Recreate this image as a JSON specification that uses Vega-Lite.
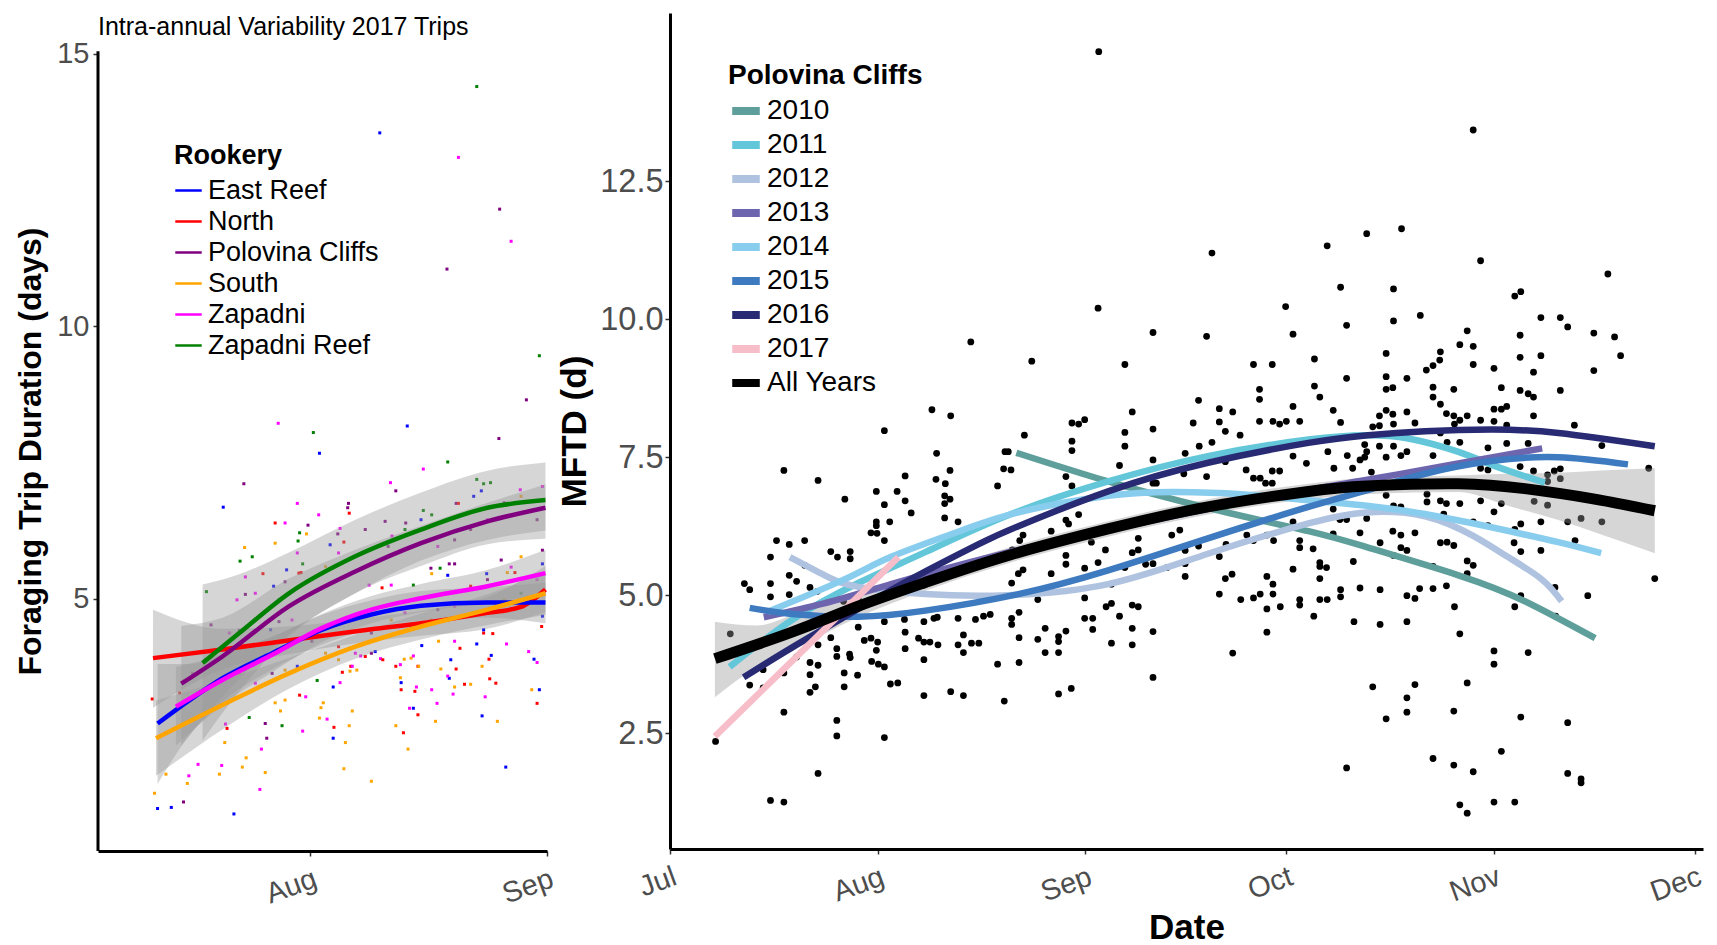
{
"$schema": "https://vega.github.io/schema/vega-lite/v6.json",
"padding": {"left": 14, "top": 13, "right": 0, "bottom": 0},
"background": "white",
"config": {"font": "Liberation Sans", "view": {"stroke": null}, "axis": {"grid": false, "domainColor": "black", "domainWidth": 3, "tickColor": "#333333", "tickSize": 5, "tickWidth": 1.5, "labelColor": "#4d4d4d", "titleColor": "black", "titleFontWeight": "bold"}, "legend": {"titleColor": "black", "labelColor": "black", "titleFontWeight": "bold", "padding": 0, "labelLimit": 0, "titleLimit": 0}},
"datasets": {
"lp": [
{"d":234.8,"v":14.4,"r":"Zapadni Reef"},{"d":222.1,"v":13.55,"r":"East Reef"},{"d":232.4,"v":13.1,"r":"Zapadni"},{"d":237.8,"v":12.15,"r":"Polovina Cliffs"},{"d":239.3,"v":11.56,"r":"Zapadni"},{"d":230.9,"v":11.05,"r":"Polovina Cliffs"},{"d":243.0,"v":9.46,"r":"Zapadni Reef"},
{"d":241.3,"v":8.65,"r":"Polovina Cliffs"},{"d":208.8,"v":8.22,"r":"Zapadni"},{"d":213.4,"v":8.05,"r":"Zapadni Reef"},{"d":225.7,"v":8.17,"r":"East Reef"},{"d":237.7,"v":7.94,"r":"Polovina Cliffs"},{"d":214.2,"v":7.67,"r":"East Reef"},{"d":231.0,"v":7.51,"r":"Zapadni Reef"},{"d":227.8,"v":7.38,"r":"Zapadni"},{"d":204.3,"v":7.11,"r":"Polovina Cliffs"},{"d":223.5,"v":7.13,"r":"Zapadni"},{"d":224.2,"v":6.98,"r":"Polovina Cliffs"},{"d":201.6,"v":6.68,"r":"East Reef"},{"d":211.3,"v":6.75,"r":"Zapadni"},{"d":218.0,"v":6.75,"r":"Polovina Cliffs"},{"d":214.1,"v":6.54,"r":"Zapadni"},{"d":217.9,"v":6.67,"r":"Polovina Cliffs"},{"d":218.1,"v":6.57,"r":"North"},{"d":208.4,"v":6.39,"r":"North"},{"d":209.7,"v":6.39,"r":"Zapadni"},{"d":212.7,"v":6.35,"r":"Polovina Cliffs"},{"d":216.9,"v":6.29,"r":"Zapadni"},{"d":216.6,"v":6.19,"r":"Polovina Cliffs"},{"d":211.6,"v":6.21,"r":"Zapadni Reef"},{"d":212.5,"v":6.19,"r":"South"},{"d":211.4,"v":6.06,"r":"Zapadni Reef"},{"d":215.6,"v":5.99,"r":"East Reef"},{"d":217.4,"v":6.04,"r":"North"},{"d":208.4,"v":6.02,"r":"South"},{"d":204.4,"v":5.94,"r":"South"},{"d":203.8,"v":5.69,"r":"Zapadni Reef"},{"d":205.4,"v":5.77,"r":"Zapadni Reef"},{"d":211.3,"v":5.84,"r":"Zapadni"},{"d":212.0,"v":5.64,"r":"Zapadni Reef"},{"d":209.9,"v":5.53,"r":"East Reef"},{"d":206.8,"v":5.46,"r":"North"},{"d":204.5,"v":5.40,"r":"Zapadni"},{"d":211.8,"v":5.48,"r":"North"},{"d":208.2,"v":5.23,"r":"East Reef"},{"d":209.7,"v":5.31,"r":"Polovina Cliffs"},{"d":199.4,"v":5.13,"r":"Zapadni Reef"},{"d":203.4,"v":4.98,"r":"Zapadni"},{"d":204.5,"v":5.08,"r":"Polovina Cliffs"},{"d":220.7,"v":5.25,"r":"Zapadni"},{"d":222.8,"v":6.42,"r":"Polovina Cliffs"},{"d":223.7,"v":6.15,"r":"Zapadni"},{"d":225.5,"v":6.39,"r":"Polovina Cliffs"},{"d":227.8,"v":6.62,"r":"Zapadni Reef"},{"d":228.9,"v":6.54,"r":"Zapadni Reef"},{"d":232.1,"v":6.75,"r":"Polovina Cliffs"},{"d":232.4,"v":6.75,"r":"North"},{"d":234.8,"v":7.19,"r":"Zapadni Reef"},{"d":235.7,"v":7.11,"r":"Zapadni Reef"},{"d":236.6,"v":7.13,"r":"Zapadni Reef"},{"d":235.4,"v":6.98,"r":"East Reef"},{"d":234.4,"v":6.88,"r":"East Reef"},{"d":240.5,"v":7.0,"r":"Zapadni"},{"d":243.4,"v":7.06,"r":"Zapadni"},{"d":243.4,"v":5.89,"r":"Polovina Cliffs"},{"d":238.0,"v":5.71,"r":"Polovina Cliffs"},{"d":231.2,"v":5.64,"r":"Polovina Cliffs"},{"d":231.9,"v":5.64,"r":"Polovina Cliffs"},{"d":228.8,"v":5.56,"r":"Polovina Cliffs"},{"d":230.0,"v":5.56,"r":"Zapadni Reef"},{"d":240.6,"v":5.77,"r":"South"},{"d":239.3,"v":5.58,"r":"Zapadni"},{"d":239.8,"v":5.48,"r":"North"},{"d":238.8,"v":5.48,"r":"South"},{"d":243.4,"v":5.64,"r":"East Reef"},{"d":236.1,"v":5.46,"r":"East Reef"},{"d":228.9,"v":5.46,"r":"South"},{"d":231.0,"v":5.43,"r":"East Reef"},{"d":223.6,"v":5.25,"r":"Zapadni"},{"d":222.4,"v":5.20,"r":"North"},{"d":226.5,"v":5.25,"r":"Zapadni Reef"},{"d":243.4,"v":4.68,"r":"East Reef"},{"d":243.3,"v":4.49,"r":"North"},{"d":235.7,"v":4.37,"r":"North"},{"d":236.9,"v":4.36,"r":"North"},{"d":235.7,"v":4.43,"r":"East Reef"},{"d":227.6,"v":4.14,"r":"East Reef"},{"d":229.8,"v":4.22,"r":"South"},{"d":231.9,"v":4.22,"r":"Zapadni"},{"d":232.6,"v":4.09,"r":"North"},{"d":234.8,"v":4.17,"r":"East Reef"},{"d":238.7,"v":4.17,"r":"Zapadni"},{"d":231.4,"v":3.88,"r":"East Reef"},{"d":241.6,"v":4.03,"r":"Zapadni"},{"d":242.3,"v":3.89,"r":"East Reef"},{"d":242.7,"v":3.83,"r":"Zapadni"},{"d":236.4,"v":3.89,"r":"North"},{"d":236.7,"v":3.96,"r":"East Reef"},{"d":235.5,"v":3.76,"r":"South"},{"d":232.1,"v":3.71,"r":"North"},{"d":230.1,"v":3.71,"r":"South"},{"d":231.2,"v":3.54,"r":"East Reef"},{"d":231.0,"v":3.58,"r":"Zapadni"},{"d":233.2,"v":3.43,"r":"North"},{"d":234.0,"v":3.43,"r":"South"},{"d":236.5,"v":3.53,"r":"North"},{"d":237.3,"v":3.45,"r":"North"},{"d":231.9,"v":3.38,"r":"South"},{"d":231.7,"v":3.25,"r":"Zapadni"},{"d":235.9,"v":3.20,"r":"Zapadni"},{"d":228.9,"v":3.33,"r":"Zapadni"},{"d":242.0,"v":3.33,"r":"South"},{"d":243.0,"v":3.33,"r":"East Reef"},{"d":242.7,"v":3.08,"r":"North"},{"d":235.5,"v":2.85,"r":"East Reef"},{"d":237.5,"v":2.75,"r":"South"},{"d":238.6,"v":1.91,"r":"East Reef"},{"d":229.4,"v":2.75,"r":"South"},{"d":229.6,"v":3.08,"r":"Zapadni"},{"d":227.1,"v":2.87,"r":"North"},{"d":226.5,"v":2.99,"r":"East Reef"},{"d":226.0,"v":2.99,"r":"Zapadni"},{"d":226.7,"v":3.30,"r":"North"},{"d":226.9,"v":3.38,"r":"Zapadni"},{"d":224.9,"v":3.33,"r":"North"},{"d":224.9,"v":3.46,"r":"East Reef"},{"d":224.8,"v":3.55,"r":"South"},{"d":224.2,"v":3.76,"r":"North"},{"d":224.8,"v":3.79,"r":"Zapadni"},{"d":225.3,"v":3.89,"r":"South"},{"d":226.2,"v":3.91,"r":"South"},{"d":226.5,"v":3.95,"r":"Zapadni"},{"d":227.1,"v":3.76,"r":"North"},{"d":227.2,"v":3.76,"r":"South"},{"d":225.2,"v":2.54,"r":"North"},{"d":224.2,"v":2.67,"r":"South"},{"d":225.8,"v":2.24,"r":"South"},{"d":221.0,"v":1.65,"r":"South"},{"d":217.4,"v":1.88,"r":"South"},{"d":217.6,"v":2.36,"r":"South"},{"d":218.1,"v":2.67,"r":"South"},{"d":218.5,"v":2.94,"r":"South"},{"d":216.1,"v":2.64,"r":"North"},{"d":215.2,"v":2.79,"r":"Zapadni"},{"d":214.2,"v":2.81,"r":"South"},{"d":214.4,"v":3.00,"r":"South"},{"d":214.7,"v":3.09,"r":"South"},{"d":212.0,"v":2.57,"r":"Zapadni"},{"d":216.0,"v":2.44,"r":"East Reef"},{"d":212.4,"v":3.20,"r":"Zapadni"},{"d":211.6,"v":3.23,"r":"North"},{"d":209.7,"v":3.14,"r":"South"},{"d":208.4,"v":3.09,"r":"South"},{"d":209.1,"v":2.94,"r":"South"},{"d":209.3,"v":2.67,"r":"Zapadni Reef"},{"d":207.1,"v":2.71,"r":"Polovina Cliffs"},{"d":207.3,"v":2.44,"r":"Polovina Cliffs"},{"d":206.6,"v":2.24,"r":"Zapadni"},{"d":207.1,"v":1.81,"r":"South"},{"d":206.4,"v":1.50,"r":"Zapadni"},{"d":204.6,"v":2.08,"r":"South"},{"d":204.1,"v":1.91,"r":"South"},{"d":203.0,"v":1.05,"r":"East Reef"},{"d":201.4,"v":1.94,"r":"Zapadni"},{"d":201.1,"v":1.78,"r":"South"},{"d":201.8,"v":2.36,"r":"South"},{"d":202.1,"v":2.62,"r":"North"},{"d":201.9,"v":2.70,"r":"Zapadni"},{"d":205.0,"v":2.82,"r":"Zapadni Reef"},{"d":198.3,"v":1.96,"r":"Zapadni"},{"d":197.1,"v":1.75,"r":"Zapadni"},{"d":196.9,"v":1.61,"r":"South"},{"d":196.4,"v":1.27,"r":"Polovina Cliffs"},{"d":194.8,"v":1.17,"r":"East Reef"},{"d":193.0,"v":1.15,"r":"East Reef"},{"d":192.6,"v":1.43,"r":"South"},{"d":194.1,"v":1.78,"r":"South"},{"d":192.3,"v":3.16,"r":"North"},{"d":213.9,"v":3.50,"r":"Zapadni Reef"},{"d":216.0,"v":3.38,"r":"East Reef"},{"d":216.9,"v":3.46,"r":"Zapadni"},{"d":217.2,"v":3.65,"r":"North"},{"d":218.3,"v":3.76,"r":"North"},{"d":218.5,"v":3.76,"r":"Zapadni"},{"d":219.6,"v":3.95,"r":"Zapadni"},{"d":220.2,"v":3.94,"r":"North"},{"d":221.5,"v":4.03,"r":"East Reef"},{"d":222.2,"v":3.90,"r":"Zapadni"},{"d":222.5,"v":3.88,"r":"North"},{"d":219.1,"v":3.69,"r":"South"},{"d":218.2,"v":3.67,"r":"South"},
{"d":200.0,"v":4.52,"r":"Polovina Cliffs"},{"d":202.4,"v":4.37,"r":"Zapadni"},{"d":203.7,"v":4.42,"r":"Polovina Cliffs"},{"d":207.8,"v":4.43,"r":"East Reef"},{"d":208.9,"v":4.58,"r":"Polovina Cliffs"},{"d":210.6,"v":4.61,"r":"Zapadni"},{"d":213.2,"v":4.22,"r":"Polovina Cliffs"},{"d":215.0,"v":4.0,"r":"South"},{"d":216.7,"v":4.12,"r":"North"},{"d":218.9,"v":4.0,"r":"Zapadni"},{"d":221.0,"v":4.37,"r":"Polovina Cliffs"},{"d":223.6,"v":4.61,"r":"South"},{"d":225.4,"v":4.74,"r":"Zapadni"},{"d":228.8,"v":4.61,"r":"South"},{"d":229.7,"v":4.80,"r":"Polovina Cliffs"},{"d":231.9,"v":4.86,"r":"Zapadni"},{"d":234.0,"v":5.23,"r":"North"},{"d":236.2,"v":5.35,"r":"Polovina Cliffs"},{"d":238.4,"v":4.98,"r":"South"},{"d":240.6,"v":5.10,"r":"Zapadni Reef"},{"d":242.7,"v":5.35,"r":"Zapadni"},{"d":223.2,"v":5.96,"r":"Polovina Cliffs"},{"d":225.4,"v":6.27,"r":"Zapadni Reef"},{"d":227.5,"v":6.45,"r":"East Reef"},{"d":229.7,"v":5.96,"r":"Zapadni"},{"d":231.9,"v":6.08,"r":"Polovina Cliffs"},{"d":234.0,"v":6.27,"r":"Polovina Cliffs"},{"d":236.2,"v":6.45,"r":"Zapadni"},{"d":238.4,"v":6.76,"r":"Polovina Cliffs"},{"d":240.6,"v":6.88,"r":"South"},{"d":242.7,"v":6.45,"r":"Polovina Cliffs"},{"d":220.2,"v":6.27,"r":"Polovina Cliffs"},{"d":216.7,"v":5.84,"r":"Zapadni"},{"d":215.0,"v":5.59,"r":"South"},{"d":211.5,"v":5.47,"r":"North"},{"d":208.9,"v":4.98,"r":"Polovina Cliffs"},{"d":205.8,"v":5.10,"r":"Zapadni"},{"d":203.7,"v":3.63,"r":"South"},{"d":205.8,"v":3.45,"r":"Zapadni"},{"d":208.0,"v":3.63,"r":"Polovina Cliffs"},{"d":209.7,"v":3.69,"r":"South"},{"d":211.3,"v":3.76,"r":"East Reef"},{"d":216.7,"v":3.88,"r":"South"},{"d":221.0,"v":4.0,"r":"Polovina Cliffs"},{"d":197.6,"v":3.63,"r":"Polovina Cliffs"},{"d":199.3,"v":3.88,"r":"Zapadni"},{"d":195.9,"v":3.27,"r":"North"}
],
"ll": [
{"d":192.4,"v":3.91,"r":"North"},{"d":201.5,"v":4.07,"r":"North"},{"d":211,"v":4.25,"r":"North"},{"d":221,"v":4.44,"r":"North"},{"d":227.5,"v":4.55,"r":"North"},{"d":236.2,"v":4.74,"r":"North"},{"d":240.6,"v":4.85,"r":"North"},{"d":243.8,"v":5.17,"r":"North"},
{"d":193,"v":2.71,"r":"East Reef"},{"d":197.2,"v":3.14,"r":"East Reef"},{"d":201.5,"v":3.54,"r":"East Reef"},{"d":208,"v":4.0,"r":"East Reef"},{"d":214.5,"v":4.43,"r":"East Reef"},{"d":221,"v":4.71,"r":"East Reef"},{"d":227.5,"v":4.87,"r":"East Reef"},{"d":236.2,"v":4.93,"r":"East Reef"},{"d":243.8,"v":4.93,"r":"East Reef"},
{"d":195.4,"v":3.02,"r":"Zapadni"},{"d":201.5,"v":3.51,"r":"Zapadni"},{"d":208,"v":3.97,"r":"Zapadni"},{"d":214.5,"v":4.46,"r":"Zapadni"},{"d":221,"v":4.80,"r":"Zapadni"},{"d":227.5,"v":5.01,"r":"Zapadni"},{"d":236.2,"v":5.23,"r":"Zapadni"},{"d":243.8,"v":5.47,"r":"Zapadni"},
{"d":192.8,"v":2.44,"r":"South"},{"d":201.5,"v":3.05,"r":"South"},{"d":210.2,"v":3.63,"r":"South"},{"d":218.9,"v":4.12,"r":"South"},{"d":227.5,"v":4.49,"r":"South"},{"d":236.2,"v":4.80,"r":"South"},{"d":243.8,"v":5.10,"r":"South"},
{"d":196.1,"v":3.44,"r":"Polovina Cliffs"},{"d":201.5,"v":3.94,"r":"Polovina Cliffs"},{"d":210.2,"v":4.86,"r":"Polovina Cliffs"},{"d":218.9,"v":5.50,"r":"Polovina Cliffs"},{"d":227.5,"v":6.02,"r":"Polovina Cliffs"},{"d":236.2,"v":6.42,"r":"Polovina Cliffs"},{"d":243.8,"v":6.67,"r":"Polovina Cliffs"},
{"d":198.9,"v":3.82,"r":"Zapadni Reef"},{"d":203.7,"v":4.37,"r":"Zapadni Reef"},{"d":210.2,"v":5.10,"r":"Zapadni Reef"},{"d":218.9,"v":5.78,"r":"Zapadni Reef"},{"d":227.5,"v":6.27,"r":"Zapadni Reef"},{"d":236.2,"v":6.67,"r":"Zapadni Reef"},{"d":243.8,"v":6.81,"r":"Zapadni Reef"}
],
"lb": [
{"d":192.4,"lo":3.0,"hi":4.8,"r":"North"},{"d":201.5,"lo":3.7,"hi":4.45,"r":"North"},{"d":211,"lo":4.0,"hi":4.5,"r":"North"},{"d":221,"lo":4.22,"hi":4.66,"r":"North"},{"d":227.5,"lo":4.32,"hi":4.78,"r":"North"},{"d":236.2,"lo":4.45,"hi":5.03,"r":"North"},{"d":243.8,"lo":4.75,"hi":5.6,"r":"North"},
{"d":193,"lo":1.6,"hi":3.8,"r":"East Reef"},{"d":197.2,"lo":2.5,"hi":3.8,"r":"East Reef"},{"d":201.5,"lo":3.1,"hi":4.0,"r":"East Reef"},{"d":208,"lo":3.7,"hi":4.3,"r":"East Reef"},{"d":214.5,"lo":4.15,"hi":4.7,"r":"East Reef"},{"d":221,"lo":4.45,"hi":4.97,"r":"East Reef"},{"d":227.5,"lo":4.6,"hi":5.14,"r":"East Reef"},{"d":236.2,"lo":4.65,"hi":5.21,"r":"East Reef"},{"d":243.8,"lo":4.55,"hi":5.3,"r":"East Reef"},
{"d":195.4,"lo":2.3,"hi":3.75,"r":"Zapadni"},{"d":201.5,"lo":3.05,"hi":3.97,"r":"Zapadni"},{"d":208,"lo":3.65,"hi":4.3,"r":"Zapadni"},{"d":214.5,"lo":4.2,"hi":4.72,"r":"Zapadni"},{"d":221,"lo":4.55,"hi":5.05,"r":"Zapadni"},{"d":227.5,"lo":4.75,"hi":5.27,"r":"Zapadni"},{"d":236.2,"lo":4.93,"hi":5.53,"r":"Zapadni"},{"d":243.8,"lo":5.05,"hi":5.9,"r":"Zapadni"},
{"d":192.8,"lo":1.75,"hi":3.13,"r":"South"},{"d":201.5,"lo":2.6,"hi":3.5,"r":"South"},{"d":210.2,"lo":3.35,"hi":3.91,"r":"South"},{"d":218.9,"lo":3.9,"hi":4.34,"r":"South"},{"d":227.5,"lo":4.25,"hi":4.73,"r":"South"},{"d":236.2,"lo":4.52,"hi":5.08,"r":"South"},{"d":243.8,"lo":4.7,"hi":5.5,"r":"South"},
{"d":196.1,"lo":2.3,"hi":4.5,"r":"Polovina Cliffs"},{"d":201.5,"lo":3.2,"hi":4.65,"r":"Polovina Cliffs"},{"d":210.2,"lo":4.35,"hi":5.37,"r":"Polovina Cliffs"},{"d":218.9,"lo":5.1,"hi":5.9,"r":"Polovina Cliffs"},{"d":227.5,"lo":5.7,"hi":6.34,"r":"Polovina Cliffs"},{"d":236.2,"lo":6.08,"hi":6.76,"r":"Polovina Cliffs"},{"d":243.8,"lo":6.25,"hi":7.1,"r":"Polovina Cliffs"},
{"d":198.9,"lo":2.4,"hi":5.26,"r":"Zapadni Reef"},{"d":203.7,"lo":3.3,"hi":5.45,"r":"Zapadni Reef"},{"d":210.2,"lo":4.3,"hi":5.85,"r":"Zapadni Reef"},{"d":218.9,"lo":5.1,"hi":6.45,"r":"Zapadni Reef"},{"d":227.5,"lo":5.6,"hi":6.95,"r":"Zapadni Reef"},{"d":236.2,"lo":6.0,"hi":7.35,"r":"Zapadni Reef"},{"d":243.8,"lo":6.1,"hi":7.5,"r":"Zapadni Reef"}
],
"rp": [
{"d":246.0,"v":14.85},{"d":301.9,"v":13.43},{"d":291.2,"v":11.64},{"d":286.0,"v":11.55},{"d":280.1,"v":11.33},{"d":262.9,"v":11.20},{"d":303.0,"v":11.06},{"d":322.0,"v":10.82},
{"d":226.9,"v":9.59},{"d":221.1,"v":8.36},{"d":223.9,"v":8.25},{"d":214.0,"v":7.98},{"d":232.0,"v":7.60},{"d":221.8,"v":7.57},{"d":199.0,"v":7.26},{"d":204.1,"v":7.08},{"d":223.8,"v":7.26},{"d":217.1,"v":7.16},{"d":230.9,"v":6.98},{"d":231.8,"v":7.29},{"d":221.7,"v":7.10},{"d":223.1,"v":7.02},{"d":223.0,"v":6.80},{"d":223.8,"v":6.74},{"d":223.0,"v":6.66},{"d":212.8,"v":6.88},{"d":215.9,"v":6.88},{"d":208.1,"v":6.74},{"d":214.0,"v":6.64},{"d":217.1,"v":6.71},{"d":218.0,"v":6.49},{"d":212.8,"v":6.33},{"d":212.8,"v":6.26},{"d":212.0,"v":6.13},{"d":212.9,"v":6.12},{"d":214.8,"v":6.33},{"d":223.0,"v":6.40},{"d":225.0,"v":6.33},{"d":214.0,"v":5.99},{"d":197.9,"v":5.99},{"d":199.8,"v":5.92},{"d":202.1,"v":5.99},{"d":197.0,"v":5.69},{"d":206.0,"v":5.79},{"d":207.0,"v":5.69},{"d":208.9,"v":5.79},{"d":208.9,"v":5.66},{"d":202.1,"v":5.54},{"d":199.8,"v":5.36},{"d":200.9,"v":5.25},{"d":193.1,"v":5.21},{"d":193.9,"v":5.10},{"d":197.0,"v":5.21},{"d":197.0,"v":4.97},{"d":199.8,"v":5.01},{"d":202.9,"v":5.14},{"d":204.0,"v":5.07},{"d":191.0,"v":4.30},{"d":207.9,"v":4.89},{"d":210.1,"v":4.95},{"d":214.0,"v":4.52},{"d":217.0,"v":4.56},{"d":219.9,"v":4.52},{"d":221.4,"v":4.58},{"d":221.9,"v":4.60},{"d":225.0,"v":4.58},{"d":227.6,"v":4.56},{"d":228.8,"v":4.62},{"d":229.8,"v":4.65},{"d":230.9,"v":3.75},{"d":231.9,"v":3.08},{"d":225.8,"v":3.96},{"d":225.8,"v":4.28},{"d":225.0,"v":4.10},{"d":227.0,"v":4.13},{"d":228.1,"v":4.13},{"d":222.0,"v":4.10},{"d":220.8,"v":4.15},{"d":219.9,"v":4.15},{"d":219.1,"v":4.22},{"d":219.9,"v":3.83},{"d":217.1,"v":4.33},{"d":217.1,"v":4.03},{"d":212.0,"v":4.22},{"d":211.0,"v":4.18},{"d":213.0,"v":4.15},{"d":212.8,"v":4.00},{"d":212.1,"v":3.80},{"d":213.1,"v":3.75},{"d":214.0,"v":3.70},{"d":214.9,"v":3.39},{"d":216.0,"v":3.41},{"d":219.9,"v":3.18},{"d":223.9,"v":3.25},{"d":225.8,"v":3.18},{"d":210.0,"v":3.55},{"d":208.0,"v":3.59},{"d":208.0,"v":3.34},{"d":206.9,"v":4.03},{"d":206.9,"v":3.89},{"d":208.8,"v":3.93},{"d":208.9,"v":3.87},{"d":206.0,"v":4.23},{"d":204.1,"v":4.10},{"d":204.1,"v":3.73},{"d":202.9,"v":3.78},{"d":202.9,"v":3.56},{"d":202.9,"v":3.24},{"d":203.7,"v":3.34},{"d":206.9,"v":2.73},{"d":206.9,"v":2.45},{"d":214.0,"v":2.42},{"d":204.1,"v":1.77},{"d":197.0,"v":1.28},{"d":199.0,"v":1.25},{"d":199.0,"v":2.88},{"d":193.9,"v":3.37},{"d":195.9,"v":3.32},{"d":195.9,"v":3.65},{"d":199.0,"v":3.59},{"d":200.9,"v":3.88},{"d":188.8,"v":2.35},{"d":210.1,"v":4.42},
{"d":245.9,"v":10.20},{"d":273.9,"v":10.23},{"d":282.1,"v":10.58},{"d":283.0,"v":9.89},{"d":275.0,"v":9.73},{"d":262.1,"v":9.69},{"d":254.1,"v":9.76},{"d":236.0,"v":9.24},{"d":249.9,"v":9.18},{"d":269.1,"v":9.18},{"d":271.9,"v":9.18},{"d":278.2,"v":9.28},{"d":283.0,"v":8.93},{"d":278.2,"v":8.79},{"d":279.0,"v":8.59},{"d":270.0,"v":8.73},{"d":270.0,"v":8.55},{"d":260.9,"v":8.53},{"d":251.0,"v":8.32},{"d":264.0,"v":8.38},{"d":266.0,"v":8.32},{"d":275.0,"v":8.42},{"d":281.0,"v":8.35},{"d":242.0,"v":8.12},{"d":243.0,"v":8.10},{"d":243.9,"v":8.18},{"d":249.9,"v":7.95},{"d":249.9,"v":7.70},{"d":254.1,"v":8.01},{"d":260.1,"v":8.12},{"d":264.0,"v":8.14},{"d":264.9,"v":7.97},{"d":267.1,"v":7.90},{"d":270.0,"v":8.15},{"d":272.0,"v":8.15},{"d":273.0,"v":8.10},{"d":274.0,"v":8.15},{"d":276.0,"v":8.15},{"d":282.1,"v":8.13},{"d":242.0,"v":7.79},{"d":242.0,"v":7.62},{"d":234.9,"v":7.90},{"d":232.5,"v":7.60},{"d":232.9,"v":7.27},{"d":254.1,"v":7.45},{"d":249.1,"v":7.35},{"d":258.9,"v":7.57},{"d":261.0,"v":7.70},{"d":262.9,"v":7.77},{"d":258.7,"v":7.20},{"d":262.1,"v":7.15},{"d":264.9,"v":7.42},{"d":268.0,"v":7.27},{"d":269.1,"v":7.12},{"d":270.1,"v":7.12},{"d":271.9,"v":7.25},{"d":273.0,"v":7.25},{"d":275.0,"v":7.52},{"d":277.0,"v":7.39},{"d":280.2,"v":7.60},{"d":281.1,"v":7.30},{"d":283.1,"v":7.53},{"d":283.9,"v":7.30},{"d":285.0,"v":7.45},{"d":286.0,"v":7.60},{"d":241.1,"v":7.15},{"d":242.0,"v":6.98},{"d":254.1,"v":7.03},{"d":254.6,"v":7.03},{"d":271.9,"v":7.03},{"d":270.9,"v":7.03},{"d":243.0,"v":6.46},{"d":241.1,"v":6.36},{"d":241.5,"v":6.29},{"d":238.9,"v":6.16},{"d":234.7,"v":6.09},{"d":234.2,"v":5.99},{"d":233.1,"v":5.82},{"d":234.0,"v":5.39},{"d":234.7,"v":5.46},{"d":233.0,"v":5.22},{"d":238.9,"v":5.39},{"d":241.1,"v":5.72},{"d":241.1,"v":5.56},{"d":243.9,"v":5.49},{"d":244.9,"v":5.96},{"d":247.0,"v":5.82},{"d":245.9,"v":5.59},{"d":247.9,"v":5.20},{"d":249.9,"v":5.50},{"d":251.0,"v":5.77},{"d":251.9,"v":5.82},{"d":251.9,"v":6.03},{"d":253.0,"v":5.56},{"d":254.1,"v":5.57},{"d":256.2,"v":5.50},{"d":256.9,"v":6.09},{"d":258.1,"v":6.18},{"d":258.9,"v":5.81},{"d":258.9,"v":5.57},{"d":258.9,"v":5.34},{"d":260.9,"v":5.89},{"d":264.0,"v":5.70},{"d":265.0,"v":5.92},{"d":264.9,"v":5.30},{"d":265.9,"v":5.38},{"d":264.0,"v":5.02},{"d":267.2,"v":4.92},{"d":269.1,"v":4.95},{"d":270.1,"v":5.02},{"d":271.1,"v":4.75},{"d":272.0,"v":5.02},{"d":273.1,"v":4.79},{"d":272.0,"v":5.20},{"d":271.1,"v":5.34},{"d":269.1,"v":5.99},{"d":268.1,"v":6.09},{"d":271.1,"v":6.09},{"d":272.1,"v":5.99},{"d":275.0,"v":5.47},{"d":276.0,"v":4.92},{"d":276.0,"v":4.82},{"d":278.1,"v":4.62},{"d":279.0,"v":4.92},{"d":280.1,"v":4.92},{"d":279.0,"v":5.30},{"d":279.0,"v":5.52},{"d":280.0,"v":5.50},{"d":278.0,"v":5.84},{"d":279.0,"v":5.59},{"d":276.0,"v":5.99},{"d":276.0,"v":5.86},{"d":282.1,"v":5.10},{"d":282.1,"v":4.97},{"d":284.1,"v":4.52},{"d":285.0,"v":5.13},{"d":284.0,"v":5.61},{"d":285.0,"v":6.13},{"d":281.0,"v":6.11},{"d":282.0,"v":6.37},{"d":283.0,"v":6.37},{"d":281.0,"v":6.56},{"d":286.0,"v":6.39},{"d":275.0,"v":6.33},{"d":266.0,"v":3.95},{"d":271.1,"v":4.33},{"d":254.1,"v":4.34},{"d":251.0,"v":4.40},{"d":251.0,"v":4.10},{"d":247.9,"v":4.13},{"d":249.1,"v":4.62},{"d":251.0,"v":4.82},{"d":251.9,"v":4.79},{"d":247.1,"v":4.79},{"d":247.9,"v":4.85},{"d":245.1,"v":4.58},{"d":245.1,"v":4.38},{"d":243.9,"v":4.58},{"d":243.9,"v":4.95},{"d":241.1,"v":4.35},{"d":240.0,"v":4.25},{"d":240.0,"v":4.16},{"d":240.0,"v":3.96},{"d":238.0,"v":4.40},{"d":238.0,"v":3.96},{"d":236.9,"v":4.20},{"d":236.9,"v":4.92},{"d":234.1,"v":4.69},{"d":234.1,"v":4.23},{"d":234.1,"v":3.78},{"d":233.0,"v":4.58},{"d":233.0,"v":4.47},{"d":240.0,"v":3.21},{"d":241.9,"v":3.31},{"d":254.1,"v":3.51},{"d":283.0,"v":1.87},
{"d":290.0,"v":10.55},{"d":290.0,"v":9.97},{"d":294.0,"v":10.07},{"d":308.1,"v":10.42},{"d":309.0,"v":10.50},{"d":312.0,"v":10.03},{"d":314.9,"v":10.03},{"d":316.0,"v":9.86},{"d":319.9,"v":9.75},{"d":323.0,"v":9.68},{"d":323.9,"v":9.34},{"d":319.9,"v":9.07},{"d":312.0,"v":9.34},{"d":308.9,"v":9.71},{"d":308.9,"v":9.31},{"d":310.9,"v":9.04},{"d":301.0,"v":9.79},{"d":299.9,"v":9.54},{"d":301.9,"v":9.51},{"d":301.9,"v":9.18},{"d":305.0,"v":9.11},{"d":297.0,"v":9.41},{"d":296.9,"v":9.26},{"d":295.9,"v":9.16},{"d":294.9,"v":9.08},{"d":288.9,"v":9.38},{"d":288.9,"v":8.96},{"d":288.9,"v":8.73},{"d":289.9,"v":8.76},{"d":292.0,"v":8.93},{"d":295.9,"v":8.77},{"d":295.9,"v":8.59},{"d":299.0,"v":8.73},{"d":297.0,"v":8.46},{"d":306.1,"v":8.76},{"d":308.9,"v":8.71},{"d":310.1,"v":8.65},{"d":310.9,"v":8.59},{"d":314.9,"v":8.71},{"d":317.0,"v":8.08},{"d":310.9,"v":8.25},{"d":305.0,"v":8.37},{"d":305.0,"v":8.15},{"d":306.1,"v":8.37},{"d":306.9,"v":8.42},{"d":306.9,"v":8.08},{"d":303.0,"v":8.17},{"d":301.0,"v":8.25},{"d":299.9,"v":8.17},{"d":299.0,"v":8.25},{"d":297.9,"v":8.29},{"d":297.0,"v":7.94},{"d":299.1,"v":8.10},{"d":292.0,"v":8.32},{"d":293.2,"v":8.12},{"d":289.9,"v":8.28},{"d":288.9,"v":8.35},{"d":287.9,"v":8.25},{"d":286.9,"v":8.05},{"d":287.9,"v":8.07},{"d":290.0,"v":8.10},{"d":290.0,"v":7.70},{"d":287.9,"v":7.70},{"d":285.7,"v":7.73},{"d":285.7,"v":7.50},{"d":288.9,"v":7.50},{"d":291.1,"v":7.53},{"d":292.0,"v":7.60},{"d":295.9,"v":7.53},{"d":299.9,"v":7.77},{"d":298.0,"v":7.77},{"d":304.1,"v":7.67},{"d":306.9,"v":7.75},{"d":310.1,"v":7.75},{"d":321.1,"v":7.71},{"d":303.0,"v":7.30},{"d":304.1,"v":7.27},{"d":308.9,"v":7.33},{"d":310.9,"v":7.25},{"d":313.0,"v":7.18},{"d":314.0,"v":7.25},{"d":314.9,"v":7.29},{"d":313.0,"v":7.06},{"d":314.9,"v":7.11},{"d":328.1,"v":7.30},{"d":286.7,"v":7.23},{"d":286.7,"v":7.03},{"d":288.9,"v":6.81},{"d":290.0,"v":6.62},{"d":291.1,"v":6.60},{"d":295.0,"v":6.83},{"d":295.0,"v":6.69},{"d":297.0,"v":6.71},{"d":297.9,"v":6.66},{"d":299.9,"v":6.66},{"d":303.0,"v":6.71},{"d":306.1,"v":6.66},{"d":305.0,"v":6.51},{"d":297.5,"v":6.47},{"d":301.9,"v":6.33},{"d":304.1,"v":6.26},{"d":308.1,"v":6.19},{"d":309.0,"v":6.29},{"d":311.0,"v":6.70},{"d":312.0,"v":6.33},{"d":313.0,"v":6.63},{"d":316.0,"v":6.33},{"d":318.0,"v":6.39},{"d":321.1,"v":6.33},{"d":317.1,"v":5.99},{"d":308.0,"v":5.95},{"d":309.0,"v":5.79},{"d":312.0,"v":5.81},{"d":297.0,"v":5.95},{"d":298.0,"v":5.96},{"d":299.0,"v":5.90},{"d":291.1,"v":6.09},{"d":289.9,"v":6.16},{"d":293.2,"v":6.13},{"d":288.0,"v":5.95},{"d":290.0,"v":5.72},{"d":291.1,"v":5.86},{"d":292.0,"v":5.81},{"d":295.9,"v":5.52},{"d":297.9,"v":5.17},{"d":301.0,"v":5.62},{"d":301.9,"v":5.54},{"d":301.0,"v":5.39},{"d":293.9,"v":5.12},{"d":295.9,"v":5.12},{"d":292.0,"v":4.99},{"d":293.2,"v":4.94},{"d":288.0,"v":5.10},{"d":288.0,"v":4.47},{"d":292.0,"v":4.52},{"d":299.1,"v":4.79},{"d":299.9,"v":4.30},{"d":305.0,"v":3.99},{"d":305.0,"v":3.75},{"d":310.1,"v":3.96},{"d":309.0,"v":4.99},{"d":308.1,"v":4.79},{"d":314.1,"v":5.14},{"d":314.2,"v":4.62},{"d":319.0,"v":4.99},{"d":329.0,"v":5.30},{"d":286.9,"v":3.34},{"d":292.0,"v":3.14},{"d":292.0,"v":2.88},{"d":293.2,"v":3.38},{"d":288.9,"v":2.76},{"d":299.0,"v":2.90},{"d":301.0,"v":3.41},{"d":295.9,"v":2.04},{"d":299.0,"v":1.92},{"d":301.9,"v":1.80},{"d":299.9,"v":1.20},{"d":301.0,"v":1.05},{"d":305.0,"v":1.25},{"d":308.1,"v":1.25},{"d":306.1,"v":2.17},{"d":309.0,"v":2.79},{"d":316.0,"v":2.69},{"d":316.0,"v":1.77},{"d":318.0,"v":1.67},{"d":318.0,"v":1.60}
],
"rb": [
{"d":188.7,"lo":3.15,"hi":4.52},{"d":195,"lo":3.7,"hi":4.45},{"d":200.2,"lo":4.0,"hi":4.63},{"d":210.1,"lo":4.6,"hi":5.0},{"d":220.1,"lo":5.08,"hi":5.38},{"d":232.5,"lo":5.58,"hi":5.86},{"d":247.4,"lo":6.06,"hi":6.34},{"d":262.3,"lo":6.46,"hi":6.74},{"d":277.3,"lo":6.74,"hi":7.02},{"d":286,"lo":6.83,"hi":7.13},{"d":299.7,"lo":6.87,"hi":7.17},{"d":307.1,"lo":6.62,"hi":7.2},{"d":314.6,"lo":6.36,"hi":7.22},{"d":321,"lo":6.1,"hi":7.26},{"d":329,"lo":5.76,"hi":7.3}
],
"rl": [
{"d":233.7,"v":7.58,"s":"2010"},{"d":247.4,"v":7.06,"s":"2010"},{"d":262.3,"v":6.58,"s":"2010"},{"d":277.3,"v":6.16,"s":"2010"},{"d":286,"v":5.87,"s":"2010"},{"d":299.7,"v":5.36,"s":"2010"},{"d":309.6,"v":4.89,"s":"2010"},{"d":320.1,"v":4.22,"s":"2010"},
{"d":190.9,"v":3.70,"s":"2011"},{"d":200.2,"v":4.55,"s":"2011"},{"d":210.1,"v":5.22,"s":"2011"},{"d":220.1,"v":5.78,"s":"2011"},{"d":232.5,"v":6.45,"s":"2011"},{"d":247.4,"v":7.06,"s":"2011"},{"d":262.3,"v":7.52,"s":"2011"},{"d":277.3,"v":7.82,"s":"2011"},{"d":286,"v":7.9,"s":"2011"},{"d":292.2,"v":7.84,"s":"2011"},{"d":299.6,"v":7.6,"s":"2011"},{"d":305.6,"v":7.32,"s":"2011"},{"d":312.6,"v":7.04,"s":"2011"},
{"d":199.9,"v":5.69,"s":"2012"},{"d":205.1,"v":5.36,"s":"2012"},{"d":210.1,"v":5.15,"s":"2012"},{"d":220.1,"v":5.02,"s":"2012"},{"d":232.5,"v":5.0,"s":"2012"},{"d":247.4,"v":5.2,"s":"2012"},{"d":262.3,"v":5.75,"s":"2012"},{"d":277.3,"v":6.3,"s":"2012"},{"d":286,"v":6.5,"s":"2012"},{"d":294.7,"v":6.43,"s":"2012"},{"d":302.1,"v":6.06,"s":"2012"},{"d":307.1,"v":5.69,"s":"2012"},{"d":312.1,"v":5.29,"s":"2012"},{"d":315.1,"v":4.89,"s":"2012"},
{"d":196,"v":4.6,"s":"2013"},{"d":205,"v":4.85,"s":"2013"},{"d":215,"v":5.2,"s":"2013"},{"d":230,"v":5.7,"s":"2013"},{"d":250,"v":6.25,"s":"2013"},{"d":270,"v":6.75,"s":"2013"},{"d":285,"v":7.07,"s":"2013"},{"d":298,"v":7.35,"s":"2013"},{"d":312.2,"v":7.66,"s":"2013"},
{"d":196.6,"v":4.70,"s":"2014"},{"d":208.1,"v":5.29,"s":"2014"},{"d":215.1,"v":5.7,"s":"2014"},{"d":225,"v":6.15,"s":"2014"},{"d":234,"v":6.5,"s":"2014"},{"d":247.4,"v":6.8,"s":"2014"},{"d":257.4,"v":6.87,"s":"2014"},{"d":267.3,"v":6.83,"s":"2014"},{"d":277.3,"v":6.72,"s":"2014"},{"d":286,"v":6.62,"s":"2014"},{"d":294.7,"v":6.47,"s":"2014"},{"d":304.6,"v":6.23,"s":"2014"},{"d":314.6,"v":5.96,"s":"2014"},{"d":321,"v":5.76,"s":"2014"},
{"d":193.9,"v":4.77,"s":"2015"},{"d":200.2,"v":4.66,"s":"2015"},{"d":210.1,"v":4.61,"s":"2015"},{"d":220.1,"v":4.72,"s":"2015"},{"d":234,"v":5.02,"s":"2015"},{"d":247.4,"v":5.45,"s":"2015"},{"d":262.3,"v":6.03,"s":"2015"},{"d":277.3,"v":6.6,"s":"2015"},{"d":286,"v":6.9,"s":"2015"},{"d":294.7,"v":7.2,"s":"2015"},{"d":304.6,"v":7.43,"s":"2015"},{"d":314.6,"v":7.5,"s":"2015"},{"d":325,"v":7.37,"s":"2015"},
{"d":193,"v":3.51,"s":"2016"},{"d":200.2,"v":4.05,"s":"2016"},{"d":210.1,"v":4.75,"s":"2016"},{"d":218.1,"v":5.3,"s":"2016"},{"d":228,"v":5.92,"s":"2016"},{"d":234,"v":6.25,"s":"2016"},{"d":247.4,"v":6.88,"s":"2016"},{"d":262.3,"v":7.4,"s":"2016"},{"d":277.3,"v":7.76,"s":"2016"},{"d":286.2,"v":7.9,"s":"2016"},{"d":294.7,"v":7.97,"s":"2016"},{"d":304.6,"v":8.0,"s":"2016"},{"d":314.6,"v":7.94,"s":"2016"},{"d":329,"v":7.70,"s":"2016"},
{"d":188.7,"v":2.44,"s":"2017"},{"d":216.1,"v":5.69,"s":"2017"}
],
"ra": [
{"d":188.7,"v":3.85,"s":"All Years"},{"d":200.2,"v":4.33,"s":"All Years"},{"d":210.1,"v":4.8,"s":"All Years"},{"d":220.1,"v":5.23,"s":"All Years"},{"d":232.5,"v":5.72,"s":"All Years"},{"d":247.4,"v":6.2,"s":"All Years"},{"d":262.3,"v":6.6,"s":"All Years"},{"d":277.3,"v":6.88,"s":"All Years"},{"d":286,"v":6.98,"s":"All Years"},{"d":299.7,"v":7.02,"s":"All Years"},{"d":309.6,"v":6.93,"s":"All Years"},{"d":319.6,"v":6.75,"s":"All Years"},{"d":329,"v":6.53,"s":"All Years"}
],
"lt": [{"d": 185.2, "v": 15.5, "t": "Intra-annual Variability 2017 Trips"}],
"lax": [{"d": 185.2, "lo": 0.37, "hi": 15.05}]
},
"resolve": {"scale": {"x": "independent", "y": "independent", "color": "independent"}, "legend": {"color": "independent"}},
"spacing": 0,
"hconcat": [
{
"width": 449, "height": 838,
"encoding": {"x": {"field": "d", "type": "quantitative", "scale": {"domain": [185.2, 244], "nice": false, "zero": false}, "axis": {"values": [213, 244], "labelExpr": "datum.value == 213 ? 'Aug' : 'Sep'", "labelAngle": -20, "labelFontSize": 29, "labelPadding": 8, "title": null}}},
"layer": [
{"data": {"name": "lp"}, "mark": {"type": "square", "size": 9, "opacity": 1}, "encoding": {"y": {"field": "v", "type": "quantitative", "scale": {"domain": [0.37, 15.75], "nice": false, "zero": false}, "axis": {"values": [5, 10, 15], "domain": false, "labelFontSize": 29, "labelPadding": 4, "titleFontSize": 32, "titlePadding": 9, "titleY": 438}, "title": "Foraging Trip Duration (days)"}, "color": {"field": "r", "type": "nominal"}}},
{"data": {"name": "lb"}, "mark": {"type": "area", "color": "#999999", "opacity": 0.4, "interpolate": "monotone"}, "encoding": {"y": {"field": "lo", "type": "quantitative", "title": "Foraging Trip Duration (days)"}, "y2": {"field": "hi"}, "detail": {"field": "r"}}},
{"data": {"name": "ll"}, "mark": {"type": "line", "strokeWidth": 4.5, "interpolate": "monotone"}, "encoding": {"y": {"field": "v", "type": "quantitative", "title": "Foraging Trip Duration (days)"}, "color": {"field": "r", "type": "nominal", "scale": {"domain": ["East Reef", "North", "Polovina Cliffs", "South", "Zapadni", "Zapadni Reef"], "range": ["#0000FF", "#FF0000", "#800080", "#FFA500", "#FF00FF", "#008000"]}, "legend": {"orient": "none", "legendX": 76, "legendY": 130, "title": "Rookery", "titleFontSize": 27, "labelFontSize": 27, "symbolType": "stroke", "symbolStrokeWidth": 2.5, "symbolSize": 700, "rowPadding": 3, "titlePadding": 6, "labelOffset": 5}}}},
{"data": {"name": "lax"}, "mark": {"type": "rule", "strokeWidth": 3, "color": "black"}, "encoding": {"y": {"field": "lo", "type": "quantitative", "title": "Foraging Trip Duration (days)"}, "y2": {"field": "hi"}}},
{"data": {"name": "lt"}, "mark": {"type": "text", "align": "left", "baseline": "middle", "fontSize": 25, "color": "black"}, "encoding": {"y": {"field": "v", "type": "quantitative", "title": "Foraging Trip Duration (days)"}, "text": {"field": "t"}}}
]
},
{
"width": 1033, "height": 836,
"encoding": {"x": {"field": "d", "type": "quantitative", "scale": {"domain": [182, 336.2], "nice": false, "zero": false}, "axis": {"values": [182, 213, 244, 274, 305, 335], "labelExpr": "datum.value == 182 ? 'Jul' : datum.value == 213 ? 'Aug' : datum.value == 244 ? 'Sep' : datum.value == 274 ? 'Oct' : datum.value == 305 ? 'Nov' : 'Dec'", "labelAngle": -20, "labelFontSize": 29, "labelPadding": 8, "titleFontSize": 35, "titlePadding": 4}, "title": "Date"}},
"layer": [
{"data": {"name": "rp"}, "mark": {"type": "circle", "size": 46, "color": "black", "opacity": 1}, "encoding": {"y": {"field": "v", "type": "quantitative", "scale": {"domain": [0.4, 15.55], "nice": false, "zero": false}, "axis": {"values": [2.5, 5, 7.5, 10, 12.5], "format": ".1f", "labelFontSize": 32.5, "labelPadding": 2, "titleFontSize": 35, "titlePadding": 7}, "title": "MFTD (d)"}}},
{"data": {"name": "rb"}, "mark": {"type": "area", "color": "#999999", "opacity": 0.4, "interpolate": "monotone"}, "encoding": {"y": {"field": "lo", "type": "quantitative", "title": "MFTD (d)"}, "y2": {"field": "hi"}}},
{"data": {"name": "rl"}, "mark": {"type": "line", "strokeWidth": 6.5, "interpolate": "natural"}, "encoding": {"y": {"field": "v", "type": "quantitative", "title": "MFTD (d)"}, "color": {"field": "s", "type": "nominal"}}},
{"data": {"name": "ra"}, "mark": {"type": "line", "strokeWidth": 11, "interpolate": "natural"}, "encoding": {"y": {"field": "v", "type": "quantitative", "title": "MFTD (d)"}, "color": {"field": "s", "type": "nominal", "scale": {"domain": ["2010", "2011", "2012", "2013", "2014", "2015", "2016", "2017", "All Years"], "range": ["#5E9F9B", "#63C7D9", "#AFC3E0", "#6E65AF", "#89CDEE", "#3D7ABF", "#282A73", "#F7BDC9", "#000000"]}, "legend": {"orient": "none", "legendX": 58, "legendY": 49, "title": "Polovina Cliffs", "titleFontSize": 28, "labelFontSize": 28, "symbolType": "stroke", "symbolStrokeWidth": 8, "symbolSize": 760, "rowPadding": -2, "titlePadding": 3, "labelOffset": 3}}}}
]
}
]
}
